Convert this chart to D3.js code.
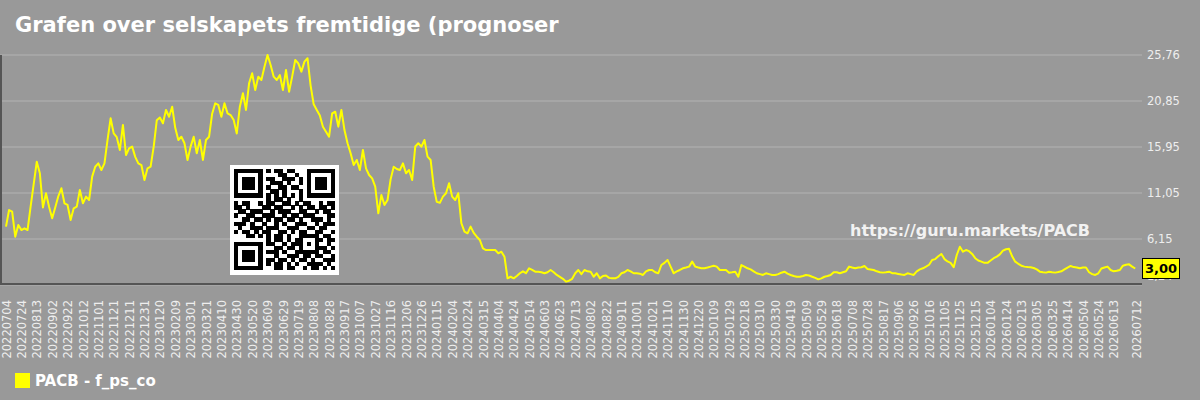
<!DOCTYPE html>
<html>
<head>
<meta charset="utf-8">
<script src="https://cdn.jsdelivr.net/npm/d3@7"></script>
<style>
  body { margin: 0; background: #999999; }
  svg { display: block; font-family: "DejaVu Sans", sans-serif; }
</style>
</head>
<body>
<script>
// ---- data ----
var startDate = "20220704";
var stepDays = 4;   // one reading every 4 days

var values = [
  7.46, 9.23, 9.05, 6.39, 7.64, 7.1, 7.28, 7.1, 9.6, 12.0,
  14.38, 13.15, 9.5, 11.02, 9.59, 8.35, 9.5, 10.7, 11.55, 9.95,
  9.77, 8.17, 9.41, 9.59, 11.37, 9.95, 10.66, 10.3, 12.79, 13.85,
  14.21, 13.5, 14.21, 16.7, 19.01, 17.4, 17.0, 15.63, 18.3, 15.1,
  15.81, 15.99, 14.9, 14.21, 14.03, 12.43, 13.68, 13.85, 15.99, 18.8,
  19.1, 18.48, 19.9, 19.18, 20.25, 18.0, 16.7, 17.05, 16.35, 14.57,
  15.99, 17.05, 15.28, 16.7, 14.57, 16.7, 17.05, 19.5, 20.61, 20.43,
  19.18, 20.61, 19.54, 19.36, 18.83, 17.4, 20.25, 21.68, 19.9, 22.74,
  23.81, 22.03, 23.45, 23.1, 24.51, 25.76, 24.7, 23.45, 23.1, 23.63,
  22.03, 24.16, 21.85, 23.45, 25.23, 24.87, 23.99, 25.05, 25.41, 22.5,
  20.5, 19.9, 19.3, 18.12, 17.58, 17.05, 19.54, 19.71, 18.12, 19.9,
  17.76, 16.35, 15.28, 14.03, 14.57, 13.5, 15.63, 13.68, 12.97, 12.61,
  11.72, 8.88, 10.84, 9.77, 10.3, 12.5, 13.85, 13.6, 13.5,
  14.21, 13.15, 13.5, 12.43, 16.0, 16.35, 15.99, 16.7, 14.92, 14.57,
  11.72, 10.1, 10.0, 10.66, 11.02, 12.08, 10.66, 10.3, 11.02, 7.82,
  6.93, 6.75, 7.46, 6.8, 6.39, 6.04, 5.15, 4.97, 4.97, 4.97,
  4.97, 4.62, 4.79, 4.26, 1.95, 2.12, 1.95, 2.2, 2.49, 2.7,
  2.5, 3.02, 2.85, 2.66, 2.66, 2.6, 2.49, 2.6, 2.84, 2.6,
  2.31, 2.1, 1.9, 1.6, 1.7, 1.9, 2.5, 2.84, 2.4, 2.84,
  2.7, 2.66, 2.12, 2.49, 1.95, 2.2, 2.25, 2.0, 1.95, 1.95,
  2.1, 2.49, 2.6, 2.84, 2.7, 2.49, 2.49, 2.45, 2.31, 2.7,
  2.84, 2.84, 2.6, 2.49, 3.37, 3.6, 3.91, 3.2, 2.49, 2.7,
  2.84, 3.02, 3.1, 3.2, 3.73, 3.2, 3.1, 3.02, 3.02, 3.1,
  3.2, 3.3, 3.2, 2.84, 2.84, 2.84, 2.55, 2.6, 2.66, 2.12,
  3.37, 3.2, 3.02, 2.9, 2.7, 2.49, 2.4, 2.31, 2.49, 2.4,
  2.31, 2.31, 2.4, 2.55, 2.66, 2.45, 2.31, 2.2, 2.12, 2.12,
  2.2, 2.31, 2.25, 2.12, 2.0, 1.84, 1.95, 2.12, 2.2, 2.31,
  2.6, 2.6, 2.49, 2.6, 2.7, 3.2, 3.1, 3.02, 3.1, 3.13,
  3.27, 2.95, 2.9, 2.84, 2.7, 2.6, 2.56, 2.6, 2.66, 2.5,
  2.49, 2.42, 2.35, 2.31, 2.49, 2.4, 2.31, 2.7, 2.9, 3.02,
  3.2, 3.4, 3.91, 4.0, 4.3, 4.55, 4.0, 3.75, 3.6, 3.13,
  4.44, 5.32, 4.79, 4.97, 4.85, 4.55, 4.1, 3.85, 3.73, 3.6,
  3.6, 3.85, 4.1, 4.26, 4.5, 4.9, 5.05, 5.1, 4.3, 3.73,
  3.5, 3.3, 3.2, 3.15, 3.13, 3.05, 2.9, 2.66, 2.6, 2.56,
  2.66, 2.6, 2.56, 2.62, 2.7, 2.9, 3.1, 3.27, 3.15, 3.1,
  3.02, 3.1, 3.1, 2.6, 2.4, 2.31, 2.49, 3.0, 3.1, 3.2,
  2.84, 2.7, 2.75, 2.84, 3.3, 3.4, 3.44, 3.2, 3.0
];

var yTicks = [25.76, 20.85, 15.95, 11.05, 6.15, 1.24];

var xTickLabels = [
  "20220704", "20220724", "20220813", "20220902", "20220922", "20221012", "20221101", "20221121",
  "20221211", "20221231", "20230120", "20230209", "20230301", "20230321", "20230410", "20230430",
  "20230520", "20230609", "20230629", "20230719", "20230808", "20230828", "20230917", "20231007",
  "20231027", "20231116", "20231206", "20231226", "20240115", "20240204", "20240224", "20240315",
  "20240404", "20240424", "20240514", "20240603", "20240623", "20240713", "20240802", "20240822",
  "20240911", "20241001", "20241021", "20241110", "20241130", "20241220", "20250109", "20250129",
  "20250218", "20250310", "20250330", "20250419", "20250509", "20250529", "20250618", "20250708",
  "20250728", "20250817", "20250906", "20250926", "20251016", "20251105", "20251125", "20251215",
  "20260104", "20260124", "20260213", "20260305", "20260325", "20260414", "20260504", "20260524",
  "20260613", "20260712"
];

var titleText = "Grafen over selskapets fremtidige (prognoser";
var seriesName = "PACB - f_ps_co";
var siteUrl = "https://guru.markets/PACB";

// QR code modules, one string per row
var qrRows = [
  "1111111010110110001111111",
  "1000001000011001001000001",
  "1011101011001110101011101",
  "1011101001110100101011101",
  "1011101010011011001011101",
  "1000001001101000101000001",
  "1111111010101010101111111",
  "0000000010110100100000000",
  "1011001011001101011001011",
  "1101000110110010101101101",
  "0110111001011100110010110",
  "1001100111001011011100011",
  "0011011010110110100111010",
  "1110100100101001110010111",
  "0100111011100111001101100",
  "1011010110011010110011001",
  "0001101010110100111110110",
  "0000000010110101100011011",
  "1111111011001011101010010",
  "1000001000110110100011101",
  "1011101011101001111110110",
  "1011101000100111011011001",
  "1011101011011010110100111",
  "1000001010110101001111010",
  "1111111000110110010110101"
];

// ---- setup ----
var svgWidth = 1200;
var svgHeight = 400;

var plot = { left: 0, right: 1142, top: 55, bottom: 285 };

var svg = d3.select("body")
    .append("svg")
    .attr("width", svgWidth)
    .attr("height", svgHeight);

svg.append("rect")
    .attr("width", svgWidth)
    .attr("height", svgHeight)
    .attr("fill", "#999999");

var parseDate = d3.timeParse("%Y%m%d");
var fmtDate = d3.timeFormat("%Y%m%d");
var noLocale = d3.formatLocale({ decimal: ",", thousands: " ", grouping: [3], currency: ["", ""] });
var fmtNum = noLocale.format(".2f");

var data = values.map((v, i) => ({
    date: d3.timeDay.offset(parseDate(startDate), i * stepDays),
    value: v
}));

var xScale = d3.scaleTime()
    .domain([parseDate(xTickLabels[0]), parseDate(xTickLabels[xTickLabels.length - 1])])
    .range([6, 1136]);

var yScale = d3.scaleLinear()
    .domain([d3.min(yTicks), d3.max(yTicks)])
    .range([plot.bottom, plot.top]);

// title
svg.append("text")
    .attr("x", 15)
    .attr("y", 32)
    .attr("fill", "#ffffff")
    .attr("font-size", "21px")
    .attr("font-weight", "bold")
    .text(titleText);

// gridlines
svg.append("g")
    .selectAll("line")
    .data(yTicks)
    .join("line")
    .attr("x1", plot.left)
    .attr("x2", plot.right)
    .attr("y1", d => yScale(d))
    .attr("y2", d => yScale(d))
    .attr("stroke", "#a6a6a6")
    .attr("stroke-width", 2);

// right axis labels
var rightAxis = d3.axisRight(yScale)
    .tickValues(yTicks)
    .tickSize(0)
    .tickPadding(5)
    .tickFormat(fmtNum);

var yAxisGroup = svg.append("g")
    .attr("transform", `translate(${plot.right},0)`)
    .call(rightAxis);
yAxisGroup.select(".domain").remove();
yAxisGroup.selectAll("text")
    .attr("fill", "#eeeeee")
    .attr("font-size", "11.5px")
    .attr("font-family", "DejaVu Sans, sans-serif")
    // the lowest label sits up inside the plot, mostly under the value badge
    .attr("y", d => d === d3.min(yTicks) ? -9 : 0);

// bottom axis labels (rotated)
var bottomAxis = d3.axisBottom(xScale)
    .tickValues(xTickLabels.map(parseDate))
    .tickSize(0)
    .tickFormat(fmtDate);

var xAxisGroup = svg.append("g")
    .attr("transform", "translate(0,300)")
    .call(bottomAxis);
xAxisGroup.select(".domain").remove();
xAxisGroup.selectAll("text")
    .attr("transform", "rotate(-90)")
    .attr("text-anchor", "end")
    .attr("x", 0)
    .attr("y", 0)
    .attr("dy", "0.36em")
    .attr("fill", "#eeeeee")
    .attr("font-size", "11.5px")
    .attr("font-family", "DejaVu Sans, sans-serif");

// watermark url
svg.append("text")
    .attr("x", 850)
    .attr("y", 236)
    .attr("fill", "#f2f2f2")
    .attr("font-size", "16px")
    .attr("font-weight", "bold")
    .text(siteUrl);

// QR code
var qrSize = qrRows.length;
var qrBand = d3.scaleBand().domain(d3.range(qrSize)).range([0, 101]);
var qrGroup = svg.append("g")
    .attr("transform", "translate(230,165)")
    .attr("shape-rendering", "crispEdges");
qrGroup.append("rect")
    .attr("width", 109)
    .attr("height", 110)
    .attr("fill", "#ffffff");
var qrCells = [];
qrRows.forEach((row, r) => {
    row.split("").forEach((c, col) => {
        if (c === "1") qrCells.push({ r: r, c: col });
    });
});
qrGroup.append("g")
    .attr("transform", "translate(4,4)")
    .selectAll("rect")
    .data(qrCells)
    .join("rect")
    .attr("x", d => qrBand(d.c))
    .attr("y", d => qrBand(d.r))
    .attr("width", qrBand.bandwidth() + 0.3)
    .attr("height", qrBand.bandwidth() + 0.3)
    .attr("fill", "#000000");

// the line
var line = d3.line()
    .x(d => xScale(d.date))
    .y(d => yScale(d.value));

svg.append("path")
    .datum(data)
    .attr("d", line)
    .attr("fill", "none")
    .attr("stroke", "#ffff00")
    .attr("stroke-width", 2)
    .attr("stroke-linejoin", "round");

// axis lines
svg.append("line")
    .attr("x1", plot.left)
    .attr("x2", plot.right)
    .attr("y1", 284)
    .attr("y2", 284)
    .attr("stroke", "#555555")
    .attr("stroke-width", 2);

svg.append("line")
    .attr("x1", 1)
    .attr("x2", 1)
    .attr("y1", plot.top)
    .attr("y2", 284)
    .attr("stroke", "#555555")
    .attr("stroke-width", 2);

// last value badge
var last = data[data.length - 1];
var badgeY = yScale(last.value);
svg.append("rect")
    .attr("x", plot.right + 0.5)
    .attr("y", badgeY - 10)
    .attr("width", 37)
    .attr("height", 20)
    .attr("fill", "#ffff00")
    .attr("stroke", "#000000")
    .attr("stroke-width", 1);
svg.append("text")
    .attr("x", plot.right + 19)
    .attr("y", badgeY + 4.5)
    .attr("text-anchor", "middle")
    .attr("fill", "#000000")
    .attr("font-size", "13px")
    .attr("font-weight", "bold")
    .text(fmtNum(last.value));

// legend
svg.append("rect")
    .attr("x", 15)
    .attr("y", 373)
    .attr("width", 15)
    .attr("height", 15)
    .attr("fill", "#ffff00");
svg.append("text")
    .attr("x", 35)
    .attr("y", 386)
    .attr("fill", "#ffffff")
    .attr("font-size", "15px")
    .attr("font-weight", "bold")
    .text(seriesName);
</script>
</body>
</html>
